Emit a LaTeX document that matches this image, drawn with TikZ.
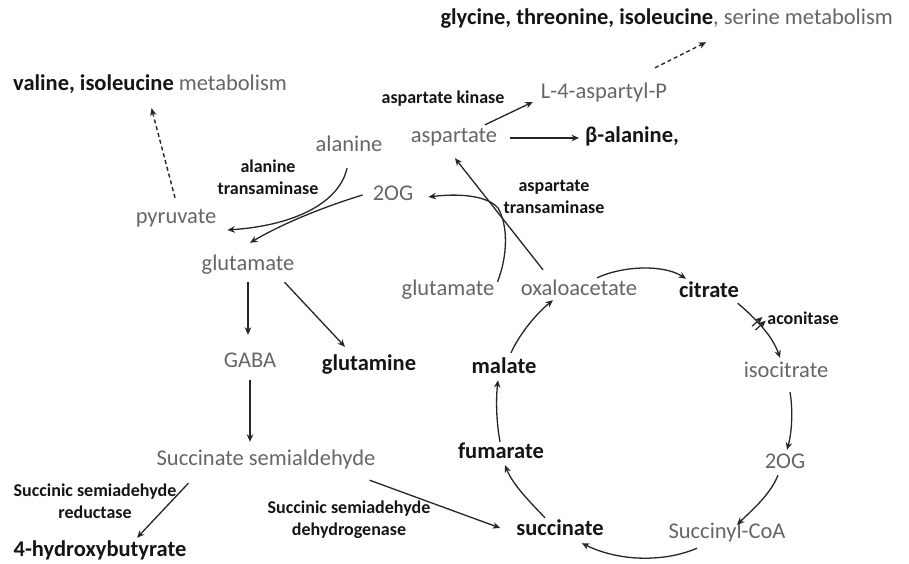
\documentclass[tikz,border=0pt]{standalone}
\usepackage{fontspec}
\setmainfont{Carlito}
\usetikzlibrary{arrows.meta,calc,decorations.markings}
\definecolor{txtgray}{HTML}{666666}
\definecolor{txtdark}{HTML}{151515}
\definecolor{linedark}{HTML}{262626}
\newcommand\mainfs{\fontsize{22.5}{27}\selectfont}
\newcommand\enzfs{\fontsize{18}{22}\selectfont\bfseries}
\begin{document}
\begin{tikzpicture}[x=1pt,y=-1pt,
  lbl/.style={font=\mainfs, text=txtgray, inner sep=0pt, text height=15pt, text depth=5pt},
  blbl/.style={lbl, font=\mainfs\bfseries, text=txtdark},
  enz/.style={font=\enzfs, text=txtdark, inner sep=0pt, align=center},
  arr/.style={draw=linedark, line width=1.3pt, -{Stealth[length=7.5pt,width=6.5pt]}},
  darr/.style={arr, line width=1.4pt, dash pattern=on 4pt off 3pt},
  bars/.style={postaction={decorate}, decoration={markings, mark=at position 0.42 with {\draw[linedark, line width=1.2pt] (-2.5pt,-7pt)--(-2.5pt,7pt); \draw[linedark, line width=1.2pt] (2.5pt,-7pt)--(2.5pt,7pt);}}}
]
\fill[white] (0,0) rectangle (909,564);
\useasboundingbox (0,0) rectangle (909,564);

% nodes
\node[lbl, anchor=west] (valine) at (13,86) {{\bfseries\color{txtdark}valine, isoleucine} metabolism};
\node[lbl, anchor=east] (glycine) at (893,20) {{\bfseries\color{txtdark}glycine, threonine, isoleucine}, serine metabolism};
\node[lbl] (l4p) at (604,94) {L-4-aspartyl-P};
\node[enz] (akin) at (443,99) {aspartate kinase};
\node[lbl] (asp) at (454,138) {aspartate};
\node[blbl, anchor=west] (bala) at (585,138) {β-alanine,};
\node[lbl] (ala) at (349,147) {alanine};
\node[enz] (alt) at (268,177) {alanine\\transaminase};
\node[lbl] (og1) at (393,195) {2OG};
\node[enz] (ast) at (554,197) {aspartate\\transaminase};
\node[lbl] (pyr) at (176,218) {pyruvate};
\node[lbl] (glu1) at (248,265) {glutamate};
\node[lbl] (glu2) at (448,290) {glutamate};
\node[lbl] (oaa) at (579,290) {oxaloacetate};
\node[blbl] (cit) at (709,292) {citrate};
\node[enz] (acon) at (803,318) {aconitase};
\node[lbl] (gaba) at (250,362) {GABA};
\node[blbl] (gln) at (369,365) {glutamine};
\node[blbl] (mal) at (504,368) {malate};
\node[lbl] (icit) at (786,372) {isocitrate};
\node[lbl] (ssa) at (266,460) {Succinate semialdehyde};
\node[blbl] (fum) at (501,453) {fumarate};
\node[lbl] (og2) at (785,463) {2OG};
\node[enz] (ssr) at (95,501) {Succinic semiadehyde\\reductase};
\node[enz] (ssd) at (349,520) {Succinic semiadehyde\\dehydrogenase};
\node[blbl] (suc) at (560,530) {succinate};
\node[lbl] (scoa) at (727,533) {Succinyl-CoA};
\node[blbl] (hb) at (100,551) {4-hydroxybutyrate};

% dashed arrows
\draw[darr] ($(pyr.north)+(-1,-10)$) -- ($(valine.south)+(1.5,12)$);
\draw[darr] ($(l4p.north)+(51,-16)$) -- ($(glycine.south)+(39.5,12)$);

% aspartate branch
\draw[arr] ($(asp.north)+(31,-3)$) -- ($(l4p.west)+(-8,8)$);
\draw[arr] ($(asp.east)+(13,0)$) -- ($(bala.west)+(-6,0)$);

% alanine transaminase
\draw[arr] ($(ala.south)+(-2,11)$) .. controls (340,200) and (300,225) .. ($(pyr.east)+(11,12)$);
\draw[arr] ($(og1.west)+(-10,0)$) .. controls (320,208) and (280,225) .. ($(glu1.north)+(2,-12)$);

% aspartate transaminase
\draw[arr] ($(oaa.north)+(-36,-10)$) -- ($(asp.south)+(1,10)$);
\draw[arr] ($(glu2.north east)+(3,2)$) .. controls (508,255) and (508,225) .. (498,208) .. controls (488,196) and (460,193) .. ($(og1.east)+(15,2)$);

% TCA cycle
\draw[arr] ($(oaa.north)+(18,-2)$) .. controls (625,265) and (665,265) .. ($(cit.north)+(-23,-3)$);
\draw[arr, bars] ($(cit.south east)+(-1.5,1)$) .. controls (755,318) and (772,335) .. ($(icit.north)+(-6,-4)$);
\draw[arr] ($(icit.south)+(4,10)$) .. controls (793,410) and (792,432) .. ($(og2.north)+(2,-3)$);
\draw[arr] ($(og2.south)+(-7,2)$) .. controls (770,495) and (752,510) .. ($(scoa.north)+(10,2)$);
\draw[arr] ($(scoa.south)+(-30,5)$) .. controls (665,562) and (620,562) .. ($(suc.south east)+(-22,3)$);
\draw[arr] ($(suc.north)+(-15,-2)$) .. controls (530,502) and (513,485) .. ($(fum.south)+(4,2)$);
\draw[arr] ($(fum.north)+(-1,-1)$) .. controls (496,420) and (496,398) .. ($(mal.south)+(-6,2)$);
\draw[arr] ($(mal.north)+(7,-5)$) .. controls (520,333) and (537,313) .. ($(oaa.south)+(-26,0)$);

% GABA shunt
\draw[arr] ($(glu1.south)+(0,7)$) -- ($(gaba.north)+(-2,-17)$);
\draw[arr] ($(gaba.south)+(0,8)$) -- ($(ssa.north)+(-16,-8)$);
\draw[arr] ($(glu1.south east)+(-10,7)$) -- ($(gln.north)+(-24,-8)$);
\draw[arr] ($(ssa.south east)+(-6,10)$) -- ($(suc.west)+(-16,-2)$);
\draw[arr] ($(ssa.south west)+(32,13)$) -- ($(hb.north)+(37,-3)$);
\end{tikzpicture}
\end{document}
